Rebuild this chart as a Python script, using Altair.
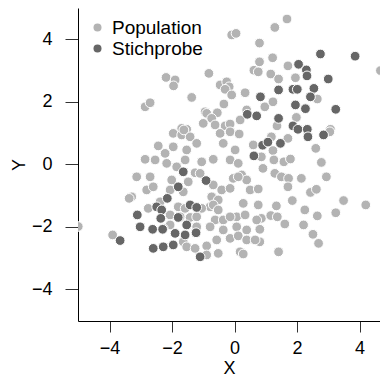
import altair as alt
import pandas as pd

# Population (light grey) points
pop_x = [-0.09, 0.05, 0.80, 0.80, -2.19, -1.90, -1.95, -0.82, -0.46, -0.25, -0.17, -0.30,
         0.34, 0.62, 0.76, -1.37, -0.09, -0.34, -2.86, -2.70, -0.94, -0.89, -0.55, -0.73,
         0.18, 0.39, -1.00, -0.62, -0.30, -0.14, -1.69, -1.53,
         1.68, 1.29, 4.67, 1.22, 1.71, 1.16, 1.41, 1.95, 2.65, 0.97, 1.23, 1.98, 1.36, 3.07,
         1.18, 1.71, 3.05, 2.60, 1.23, 0.86, 1.26, 1.58, 1.79, 2.78, 0.91, 1.29, 1.50, 1.73,
         2.14, 2.94, 1.71, 2.43, 2.62, 1.85, 3.49, 4.20, 1.34, 2.25, 3.24, 0.86, 1.16, 1.37,
         2.65, 1.61, 2.21, 0.81, 2.51, 2.69, 0.81, 1.41,
         -1.96, -1.69, -1.42, -1.62, -0.46, -0.14, 0.15, 0.60, -2.44, -2.22, -1.96, -1.53,
         -1.21, -0.36, 0.02, -0.14, 0.12, -2.86, -2.54, -2.17, -1.85, -1.58, -1.05, -0.68,
         -1.26, -1.10, -3.13, -2.70, -2.01, -1.48, -2.06, -1.64, -3.29, -2.81, -2.60,
         -0.68, -0.41, -0.14, -0.73, -0.52, 0.23, 0.39, 0.50, 0.76, -0.04, 0.12,
         -2.38, -0.78, -0.68, -0.52, 0.28, 0.07, 0.76, -2.76, -1.80, -1.58, -1.05,
         -2.06, -1.74, -1.42, -1.21, -0.62, -0.36, -0.14, 0.34, 0.71, -2.06, -2.28,
         -1.21, -0.78, -0.36, 0.07, 0.39, -1.64, -1.53, -0.89, -0.57, -0.14, 0.12, 0.39,
         0.66, 0.18, 0.28, -1.26, -0.89, -0.52,
         -3.37, -3.90, -5.00]
pop_y = [4.13, 4.18, 3.87, 3.27, 2.77, 2.69, 2.50, 2.90, 2.53, 2.63, 2.47, 2.39,
         2.28, 3.00, 2.95, 2.13, 2.21, 1.92, 1.83, 1.96, 1.67, 1.62, 1.64, 1.46,
         1.41, 1.73, 1.30, 1.25, 1.22, 1.28, 1.14, 1.11,
         4.64, 4.37, 2.99, 3.40, 3.14, 2.88, 2.72, 2.76, 2.08, 1.83, 1.99, 1.49, 1.22, 1.11,
         0.87, 0.82, 1.03, 0.50, 0.43, 0.23, 0.13, 0.07, 0.16, 0.05, -0.14, -0.30, -0.41, -0.46,
         -0.46, -0.41, -0.73, -0.91, -0.81, -1.17, -1.17, -1.31, -1.34, -1.47, -1.56, -1.74, -1.65, -1.69,
         -1.66, -1.92, -1.95, -2.09, -2.25, -2.54, -2.49, -2.81,
         0.98, 0.93, 0.87, 1.09, 0.98, 1.03, 0.96, 0.61, 0.58, 0.34, 0.55, 0.45,
         0.66, 0.66, 0.45, 0.13, 0.02, 0.15, 0.13, 0.02, -0.09, 0.13, 0.07, 0.15,
         -0.28, -0.30, -0.41, -0.41, -0.51, -0.57, -0.83, -0.89, -1.05, -0.83, -0.73,
         -0.67, -0.83, -0.78, -1.05, -1.15, -0.35, -0.51, -0.83, -0.80, -0.46, -0.41,
         -1.21, -1.37, -1.31, -1.47, -1.26, -1.69, -1.31, -1.42, -1.37, -1.42, -1.42,
         -1.63, -1.69, -1.71, -1.69, -1.79, -1.79, -1.69, -1.63, -1.79, -1.95, -2.06,
         -2.01, -2.01, -2.11, -2.01, -2.11, -2.49, -2.65, -2.62, -2.43, -2.38, -2.30, -2.43,
         -2.43, -2.81, -2.88, -2.70, -2.91, -2.86,
         -1.10, -2.27, -2.00]

# Sample (dark grey) points
samp_x = [0.41, 0.71, 0.83, 2.75, 3.86, 2.05, 2.30, 2.32, 3.00, 1.41, 1.87, 2.01, 2.54,
          2.43, 1.95, 2.27, 3.24, 1.41, 1.87, 2.03, 2.33, 2.35, 2.85, 0.90, 1.07, 1.47,
          0.62, -1.64, -0.91, -1.80, -2.15, -2.49, -2.33, -1.42, -1.21, -3.11, -2.36,
          -1.80, -1.53, -3.02, -2.62, -2.30, -1.23, -1.58, -1.90, -2.60, -2.28, -1.96,
          -1.10, -3.66]
samp_y = [1.59, 1.54, 2.15, 3.52, 3.45, 3.19, 3.01, 2.82, 2.72, 2.37, 2.39, 2.39, 2.42,
          2.15, 1.89, 1.77, 1.75, 1.46, 1.22, 1.11, 1.11, 0.87, 0.93, 0.60, 0.70, 0.66,
          0.26, -0.25, -0.53, -0.73, -1.10, -1.37, -1.47, -1.31, -1.39, -1.63, -1.74,
          -1.71, -1.95, -2.01, -2.09, -2.09, -2.20, -2.27, -2.22, -2.70, -2.65, -2.59,
          -2.97, -2.45]

groups = ["Population", "Stichprobe"]
colors = ["#b3b3b3", "#666666"]
tick_values = [-4, -2, 0, 2, 4]

df = pd.DataFrame({
    "x": pop_x + samp_x,
    "y": pop_y + samp_y,
    "group": [groups[0]] * len(pop_x) + [groups[1]] * len(samp_x),
})

FONT = "Liberation Sans"

def axis(title, tick_size, label_pad, title_pad):
    return alt.Axis(
        values=tick_values, title=title, grid=False,
        domainColor="black", domainWidth=1,
        tickColor="#333333", tickSize=tick_size, tickWidth=1,
        labelFont=FONT, labelFontSize=18, labelColor="black",
        labelPadding=label_pad, labelFlush=False, labelOverlap=False,
        titleFont=FONT, titleFontSize=18, titleFontWeight="normal",
        titleColor="black", titlePadding=title_pad,
    )

chart = alt.Chart(df).mark_circle(
    size=95, opacity=1, stroke="white", strokeWidth=1, clip=True
).encode(
    x=alt.X("x:Q", scale=alt.Scale(domain=[-5.008, 4.656], nice=False, zero=False),
            axis=axis("X", 11, 7, 2)),
    y=alt.Y("y:Q", scale=alt.Scale(domain=[-5.024, 4.992], nice=False, zero=False),
            axis=axis("Y", 13, 13, 3)),
    color=alt.Color("group:N",
                    scale=alt.Scale(domain=groups, range=colors),
                    legend=alt.Legend(title=None, orient="none", legendX=10, legendY=10,
                                      symbolType="circle", symbolSize=64,
                                      symbolStrokeWidth=0, symbolOpacity=1,
                                      labelFont=FONT, labelFontSize=19, labelColor="black",
                                      labelOffset=5, rowPadding=1, padding=0)),
).properties(
    width=302, height=313,
    autosize=alt.AutoSizeParams(type="none"),
    padding={"left": 70, "top": 0, "right": 0, "bottom": 57},
).configure_view(stroke=None)

chart.save("out.html", embed_options={"renderer": "svg", "actions": False})
